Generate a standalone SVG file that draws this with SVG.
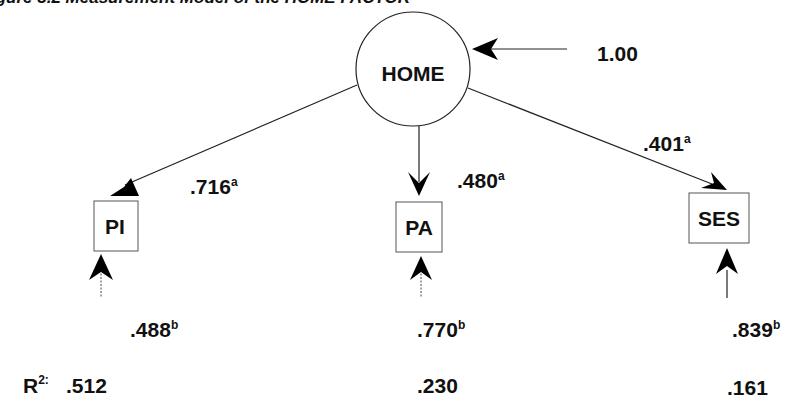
<svg xmlns="http://www.w3.org/2000/svg" width="792" height="401" viewBox="0 0 792 401">
<style>
text{font-family:"Liberation Sans",Arial,sans-serif;fill:#111}
.t{font-size:17px;font-weight:bold;font-style:italic}
.n{font-size:21px;font-weight:bold}
.sup{font-size:12px;font-weight:bold}
.lbl{font-size:21px;font-weight:bold}
.box{fill:#fff;stroke:#555;stroke-width:1}
.ln{stroke:#222;stroke-width:1.2;fill:none}
.dl{stroke:#444;stroke-width:1;fill:none;stroke-dasharray:2 1.5}
.ah{fill:#000}
</style>
<text class="t" x="410" y="3" text-anchor="end">Figure 5.2 Measurement Model of the HOME FACTOR</text>
<g id="HOME">
<circle cx="413" cy="69" r="57" fill="#fff" stroke="#222" stroke-width="1.2"/>
<text class="lbl" x="413" y="81" text-anchor="middle">HOME</text>
</g>
<g id="PI">
<rect class="box" x="94" y="201" width="44" height="50"/>
<text class="lbl" x="115" y="234" text-anchor="middle">PI</text>
</g>
<g id="PA">
<rect class="box" x="396" y="202" width="46" height="50"/>
<text class="lbl" x="419" y="235" text-anchor="middle">PA</text>
</g>
<g id="SES">
<rect class="box" x="689" y="193" width="60" height="50"/>
<text class="lbl" x="719" y="226" text-anchor="middle">SES</text>
</g>
<g id="connectors">
<line class="ln" x1="567" y1="49" x2="490" y2="49"/>
<polygon class="ah" points="472,49 498,38 491,49 498,60"/>
<line class="ln" x1="357" y1="85" x2="125" y2="185"/>
<polygon class="ah" points="110,196 139,196 131,178 124,187"/>
<line class="ln" x1="419" y1="126" x2="419" y2="182"/>
<polygon class="ah" points="419,196 408,172 419,183 430,172"/>
<line class="ln" x1="468" y1="88" x2="712" y2="184"/>
<polygon class="ah" points="727,190 711,172 714,183 701,188"/>
<line class="dl" x1="101" y1="270" x2="101" y2="298"/>
<polygon class="ah" points="101,254 89,280 101,272 113,280"/>
<line class="dl" x1="421" y1="270" x2="421" y2="298"/>
<polygon class="ah" points="421,256 410,280 421,272 432,280"/>
<line class="ln" x1="727" y1="270" x2="727" y2="298"/>
<polygon class="ah" points="727,248 716,274 727,266 738,274"/>
</g>
<g id="labels">
<text class="n" x="597" y="61">1.00</text>
<text class="n" x="190" y="194">.716<tspan class="sup" dy="-8">a</tspan></text>
<text class="n" x="457" y="188">.480<tspan class="sup" dy="-8">a</tspan></text>
<text class="n" x="643" y="151">.401<tspan class="sup" dy="-8">a</tspan></text>
<text class="n" x="130" y="337">.488<tspan class="sup" dy="-8">b</tspan></text>
<text class="n" x="417" y="337">.770<tspan class="sup" dy="-8">b</tspan></text>
<text class="n" x="732" y="337">.839<tspan class="sup" dy="-8">b</tspan></text>
<text class="n" x="23" y="393">R<tspan class="sup" dy="-9">2:</tspan></text>
<text class="n" x="66" y="393">.512</text>
<text class="n" x="417" y="393">.230</text>
<text class="n" x="727" y="395">.161</text>
</g>
</svg>
